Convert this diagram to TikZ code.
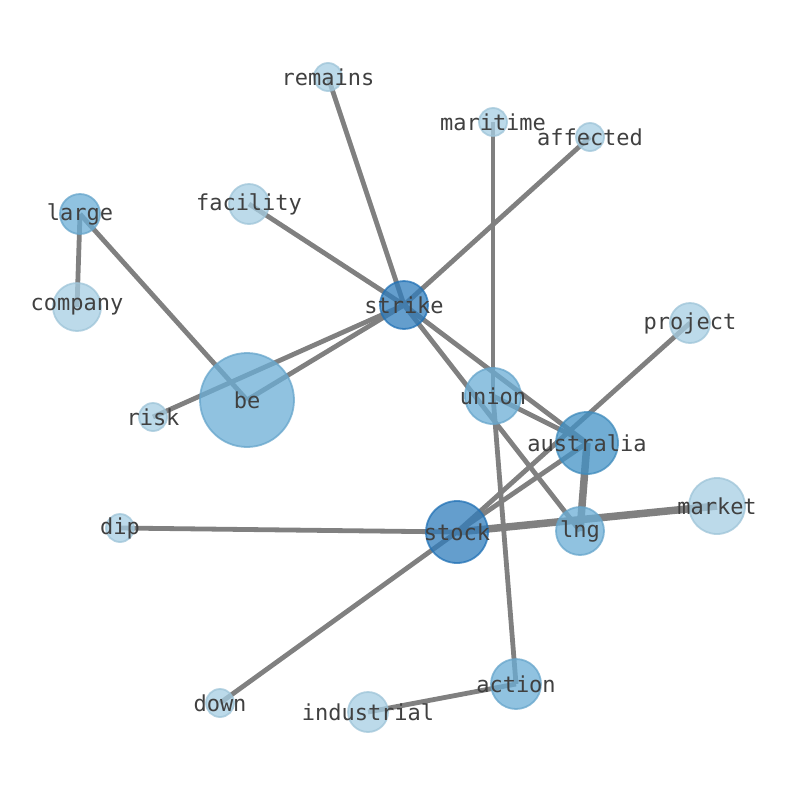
\documentclass[tikz,border=0pt]{standalone}
\usepackage{fontspec}
\setmonofont{DejaVu Sans Mono}
\pgfdeclarelayer{bg}
\pgfsetlayers{bg,main}
\definecolor{nlight}{RGB}{166,206,227}
\definecolor{nmid}{RGB}{107,174,214}
\definecolor{ndark}{RGB}{66,146,198}
\definecolor{ndeep}{RGB}{33,113,181}
\definecolor{edgegray}{RGB}{128,128,128}
\definecolor{txt}{RGB}{64,64,64}
\tikzset{
  nd/.style={circle, inner sep=0pt, minimum size=#1, fill opacity=0.75, draw opacity=0.75, line width=1.8pt},
  lt/.style={fill=nlight, draw=nlight!95!black},
  md/.style={fill=nmid, draw=nmid!95!black},
  dk/.style={fill=ndark, draw=ndark!95!black},
  dp/.style={fill=ndeep!80!nmid, draw=ndeep},
  lbl/.style={font=\ttfamily\fontsize{22}{22}\selectfont, text=txt, inner sep=0pt},
  ed/.style={draw=edgegray, line width=4.8pt},
  edthick/.style={draw=edgegray, line width=7.5pt},
}
\begin{document}
\begin{tikzpicture}[x=1pt,y=-1pt]
\useasboundingbox (0,0) rectangle (794,790);
% nodes (circles)
\node[nd=28, lt] (remains) at (328,77) {};
\node[nd=28, lt] (maritime) at (493,122) {};
\node[nd=28, lt] (affected) at (590,137) {};
\node[nd=40, md] (large) at (80,214) {};
\node[nd=40, lt] (facility) at (249,204) {};
\node[nd=48, lt] (company) at (77,307) {};
\node[nd=48, dp] (strike) at (404,305) {};
\node[nd=40, lt] (project) at (690,323) {};
\node[nd=28, lt] (risk) at (153,417) {};
\node[nd=94, md] (be) at (247,400) {};
\node[nd=56, md] (union) at (493,396) {};
\node[nd=62, dk] (australia) at (587,443) {};
\node[nd=56, lt] (market) at (717,506) {};
\node[nd=28, lt] (dip) at (120,528) {};
\node[nd=62, dp] (stock) at (457,532) {};
\node[nd=48, md] (lng) at (580,531) {};
\node[nd=50, md] (action) at (516,684) {};
\node[nd=28, lt] (down) at (220,703) {};
\node[nd=40, lt] (industrial) at (368,712) {};
% edges
\begin{pgfonlayer}{bg}
\draw[ed] (remains.center) -- (strike.center);
\draw[ed] (affected.center) -- (strike.center);
\draw[ed] (facility.center) -- (strike.center);
\draw[ed] (risk.center) -- (strike.center);
\draw[ed] (be.center) -- (strike.center);
\draw[ed] (strike.center) -- (australia.center);
\draw[ed] (strike.center) -- (lng.center);
\draw[ed] (large.center) -- (company.center);
\draw[ed] (large.center) -- (be.center);
\draw[ed] (maritime.center) -- (union.center);
\draw[ed] (union.center) -- (australia.center);
\draw[ed] (union.center) -- (action.center);
\draw[ed] (project.center) -- (stock.center);
\draw[ed] (australia.center) -- (stock.center);
\draw[edthick] (australia.center) -- (lng.center);
\draw[edthick] (stock.center) -- (market.center);
\draw[ed] (dip.center) -- (stock.center);
\draw[ed] (down.center) -- (stock.center);
\draw[ed] (industrial.center) -- (action.center);
\end{pgfonlayer}
% labels
\foreach \n in {remains,maritime,affected,large,facility,company,strike,project,risk,be,union,australia,market,dip,stock,lng,action,down,industrial}{
  \node[lbl] (t-\n) at (\n.center) {\n};
}
\end{tikzpicture}
\end{document}
